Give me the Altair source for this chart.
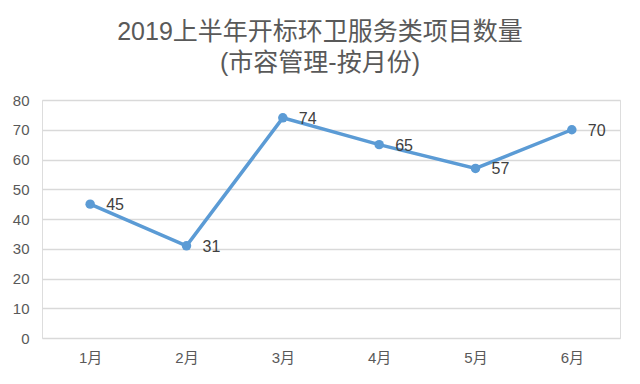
import altair as alt
import pandas as pd

months = ["1月", "2月", "3月", "4月", "5月", "6月"]
counts = [45, 31, 74, 65, 57, 70]
title_lines = ["2019上半年开标环卫服务类项目数量", "(市容管理-按月份)"]

df = pd.DataFrame({"month": months, "count": counts})

FONT = "Liberation Sans, Noto Sans CJK SC, sans-serif"
GRAY = "#595959"
BLUE = "#5b9bd5"

base = alt.Chart(df).encode(
    x=alt.X("month:N", sort=months, title=None,
            scale=alt.Scale(paddingInner=0, paddingOuter=0),
            axis=alt.Axis(labelAngle=0, labelFontSize=15, labelColor=GRAY,
                          labelFont=FONT, domain=False, ticks=False, labelPadding=12)),
    y=alt.Y("count:Q", title=None,
            scale=alt.Scale(domain=[0, 80], nice=False),
            axis=alt.Axis(values=list(range(0, 81, 10)), labelFontSize=15,
                          labelColor=GRAY, labelFont=FONT, domain=False, ticks=False,
                          labelPadding=13, gridColor="#d9d9d9", gridWidth=1.3)),
)

line = base.mark_line(color=BLUE, strokeWidth=3.5)
points = base.mark_point(filled=True, color=BLUE, size=90, opacity=1)
labels = base.mark_text(align="left", baseline="middle", dx=16, dy=1,
                        fontSize=16, color="#404040", font=FONT).encode(text="count:Q")

chart = (line + points + labels).properties(
    width=578, height=238,
    autosize=alt.AutoSizeParams(type="none"),
    padding={"left": 34, "top": 92, "right": 12, "bottom": 36},
    title=alt.Title(title_lines, fontSize=25, font=FONT, color=GRAY,
                    fontWeight="normal", lineHeight=31, anchor="middle",
                    dx=-11, offset=17),
).configure_view(stroke=None).configure(background="white")

chart.save("out.html", embed_options={"renderer": "svg", "actions": False})
